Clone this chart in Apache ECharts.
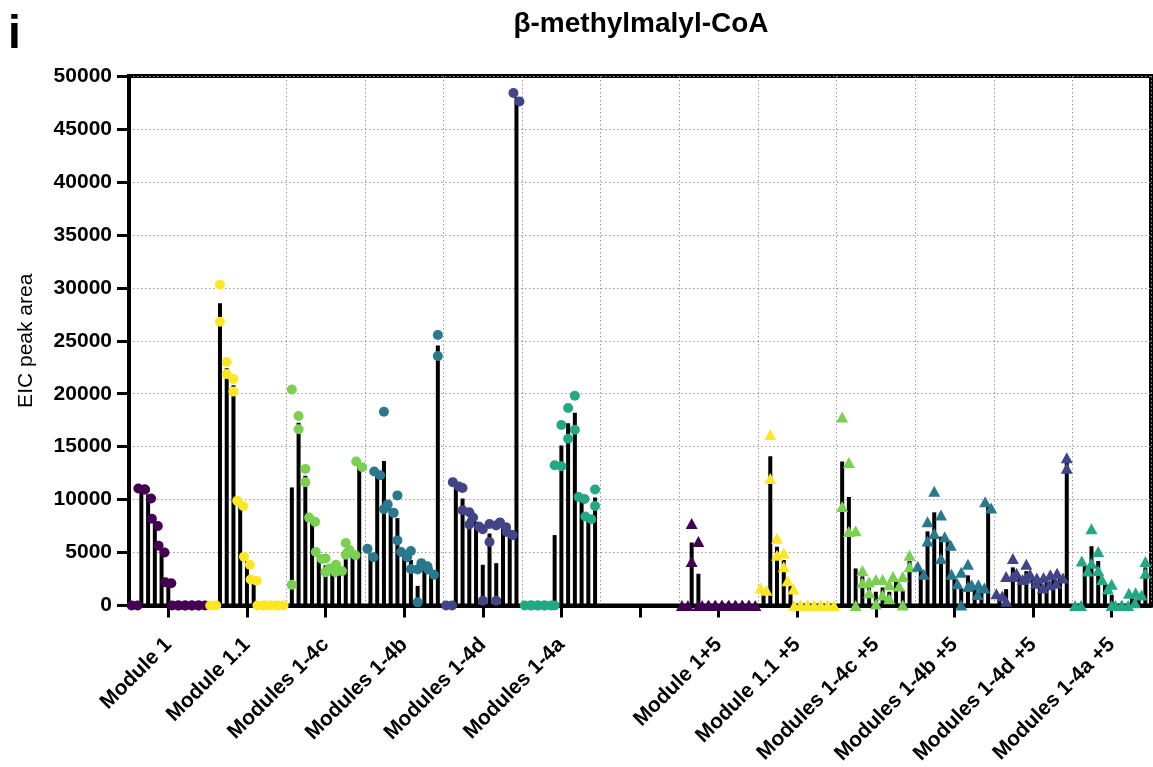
<!DOCTYPE html>
<html>
<head>
<meta charset="utf-8">
<script src="https://cdn.jsdelivr.net/npm/echarts@6/dist/echarts.min.js"></script>
<style>
  html, body { margin: 0; padding: 0; background: #fff; }
  #chart { width: 1153px; height: 767px; }
</style>
</head>
<body>
<div id="chart"></div>
<script>
// Category labels along the x axis (index 6 is the spacer between the two halves)
const categories = ['Module 1', 'Module 1.1', 'Modules 1-4c', 'Modules 1-4b', 'Modules 1-4d', 'Modules 1-4a', '',
  'Module 1+5', 'Module 1.1 +5', 'Modules 1-4c +5', 'Modules 1-4b +5', 'Modules 1-4d +5', 'Modules 1-4a +5'];

// Y axis ticks
const yTicks = [0, 5000, 10000, 15000, 20000, 25000, 30000, 35000, 40000, 45000, 50000];

// Each row: [bar (mean), replicate 1, replicate 2] — 11 samples per construct
const module1 = [[0,0,0],[11000,11050,10950],[10500,10950,10100],[7800,8200,7500],[5300,5650,5000],[2150,2200,2100],
  [0,0,0],[0,0,0],[0,0,0],[0,0,0],[0,0,0]];
const module11 = [[0,0,0],[28550,30300,26800],[22400,23000,21850],[20800,21400,20200],[9600,9900,9400],[4200,4600,3850],
  [2400,2450,2350],[0,0,0],[0,0,0],[0,0,0],[0,0,0]];
const modules14c = [[11150,20400,1950],[17250,17900,16650],[12250,12900,11650],[8100,8300,7900],[4700,5050,4400],[3800,4450,3150],
  [3300,3500,3150],[3500,3850,3250],[5300,5900,4800],[5000,5250,4750],[13300,13600,13050]];
const modules14b = [[4900,5350,4550],[12500,12650,12300],[13650,18300,9100],[9150,9550,8750],[8250,10400,6150],[4800,5050,4550],
  [4300,5150,3450],[1850,3400,300],[3850,4000,3700],[3150,3400,2900],[24550,25550,23550]];
const modules14d = [[0,0,0],[11450,11650,11250],[10100,11100,9000],[8200,8800,7650],[7900,8300,7450],[3850,7200,450],
  [6800,7700,6000],[4000,7550,450],[7600,7850,7400],[6800,6950,6650],[48000,48400,47600]];
const modules14a = [[0,0,0],[0,0,0],[0,0,0],[0,0,0],[6650,13250,0],[15100,17050,13150],
  [17200,18650,15750],[18200,19800,16600],[10150,10250,10050],[8300,8400,8150],[10200,10950,9400]];

const module1p5 = [[0,0,0],[5950,7750,4150],[3000,6050,0],[0,0,0],[0,0,0],[0,0,0],
  [0,0,0],[0,0,0],[0,0,0],[0,0,0],[0,0,0]];
const module11p5 = [[1550,1650,1450],[14100,16150,12000],[5550,6350,4750],[4300,4950,3650],[1900,2350,1550],[0,0,0],
  [0,0,0],[0,0,0],[0,0,0],[0,0,0],[0,0,0]];
const modules14cp5 = [[13600,17800,9350],[10250,13500,7000],[3500,7050,0],[2750,3300,2150],[1700,2250,1200],[1300,2450,150],
  [1700,2450,1000],[1300,1950,650],[2300,2750,1850],[1400,2750,50],[4200,4750,3650]];
const modules14bp5 = [[3300,3700,2950],[7000,7900,6100],[8800,10800,6800],[6500,8550,4450],[6100,6500,5700],[2500,2950,2050],
  [1600,3150,50],[2850,3900,1800],[1500,1950,1050],[1800,1950,1650],[9500,9800,9200]];
const modules14dp5 = [[1000,1100,900],[1550,2750,400],[3600,4450,2750],[2750,3050,2450],[3250,3900,2600],[2500,2950,2100],
  [2100,2600,1650],[2300,2650,1950],[2500,2900,2100],[2800,3050,2600],[13450,13950,12950]];
const modules14ap5 = [[0,0,0],[3750,4200,3250],[5600,7250,4000],[4200,5100,3300],[2000,2450,1550],[1000,2000,0],
  [0,0,0],[0,0,0],[700,1150,250],[1100,1200,1000],[3600,4150,3050]];

// Construct → category slot, marker colour and shape
const groups = [
  { cat: 0,  rows: module1,      color: '#440154', symbol: 'circle' },
  { cat: 1,  rows: module11,     color: '#fde725', symbol: 'circle' },
  { cat: 2,  rows: modules14c,   color: '#7ad151', symbol: 'circle' },
  { cat: 3,  rows: modules14b,   color: '#2a788e', symbol: 'circle' },
  { cat: 4,  rows: modules14d,   color: '#414487', symbol: 'circle' },
  { cat: 5,  rows: modules14a,   color: '#22a884', symbol: 'circle' },
  { cat: 7,  rows: module1p5,    color: '#440154', symbol: 'triangle' },
  { cat: 8,  rows: module11p5,   color: '#fde725', symbol: 'triangle' },
  { cat: 9,  rows: modules14cp5, color: '#7ad151', symbol: 'triangle' },
  { cat: 10, rows: modules14bp5, color: '#2a788e', symbol: 'triangle' },
  { cat: 11, rows: modules14dp5, color: '#414487', symbol: 'triangle' },
  { cat: 12, rows: modules14ap5, color: '#22a884', symbol: 'triangle' }
];

const FONT = '"Liberation Sans", Arial, Helvetica, sans-serif';
const STEP = 0.0857;     // spacing between samples inside one category (category = 1 unit)
const SPREAD = 0.038;    // sideways nudge for overlapping replicate markers
const OVERLAP = 1000;    // replicates closer than this are nudged apart

function sampleX(cat, j) { return cat + 0.5 + (j - 5) * STEP; }

const barData = [];
const series = [];
groups.forEach(g => {
  const pts = [];
  g.rows.forEach((r, j) => {
    const x = sampleX(g.cat, j);
    barData.push([x, r[0]]);
    const close = Math.abs(r[1] - r[2]) < OVERLAP;
    const d = close ? SPREAD : 0;
    pts.push([x - d, r[1]]);
    pts.push([x + d, r[2]]);
  });
  series.push({
    type: 'scatter',
    xAxisIndex: 1,
    yAxisIndex: 0,
    data: pts,
    symbol: g.symbol,
    symbolSize: g.symbol === 'circle' ? 10 : [12, 11],
    itemStyle: { color: g.color, opacity: 1 },
    z: 4,
    silent: true
  });
});

series.unshift({
  type: 'bar',
  xAxisIndex: 1,
  yAxisIndex: 0,
  data: barData,
  barWidth: 4,
  itemStyle: { color: '#000' },
  z: 3,
  silent: true
});

const chart = echarts.init(document.getElementById('chart'), null, { renderer: 'canvas' });
chart.setOption({
  animation: false,
  backgroundColor: '#fff',
  textStyle: { fontFamily: FONT },
  graphic: [
    { type: 'text', left: 8, top: 12, style: { text: 'i', font: 'bold 46px ' + FONT, fill: '#000' } },
    { type: 'text', x: 641, y: 24, style: { text: 'β-methylmalyl-CoA', font: 'bold 28px ' + FONT, fill: '#000',
      textAlign: 'center', textVerticalAlign: 'middle' } }
  ],
  grid: { left: 129, right: 2, top: 76, bottom: 160, show: true, borderColor: '#000', borderWidth: 4, backgroundColor: 'transparent' },
  xAxis: [
    {
      type: 'category',
      data: categories,
      boundaryGap: true,
      axisLine: { show: true, lineStyle: { color: '#000', width: 4 } },
      axisTick: { show: true, alignWithLabel: true, length: 12, lineStyle: { color: '#000', width: 3 } },
      axisLabel: { interval: 0, rotate: 45, margin: 36, color: '#000', fontWeight: 'bold', fontSize: 21, fontFamily: FONT },
      splitLine: { show: true, interval: (i) => i !== 1, lineStyle: { color: '#999', width: 1, type: [1.5, 2.5] } }
    },
    { type: 'value', min: 0, max: categories.length, show: false }
  ],
  yAxis: {
    type: 'value',
    min: yTicks[0],
    max: yTicks[yTicks.length - 1],
    interval: yTicks[1] - yTicks[0],
    name: 'EIC peak area',
    nameLocation: 'middle',
    nameGap: 92,
    nameTextStyle: { color: '#000', fontSize: 21, fontFamily: FONT },
    axisLine: { show: true, lineStyle: { color: '#000', width: 4 } },
    axisTick: { show: true, length: 12, lineStyle: { color: '#000', width: 3 } },
    axisLabel: { color: '#000', fontWeight: 'bold', fontSize: 21, margin: 17, fontFamily: FONT, formatter: v => String(v) },
    splitLine: { show: true, lineStyle: { color: '#999', width: 1, type: [1.5, 2.5] } }
  },
  series: series
});
</script>
</body>
</html>
